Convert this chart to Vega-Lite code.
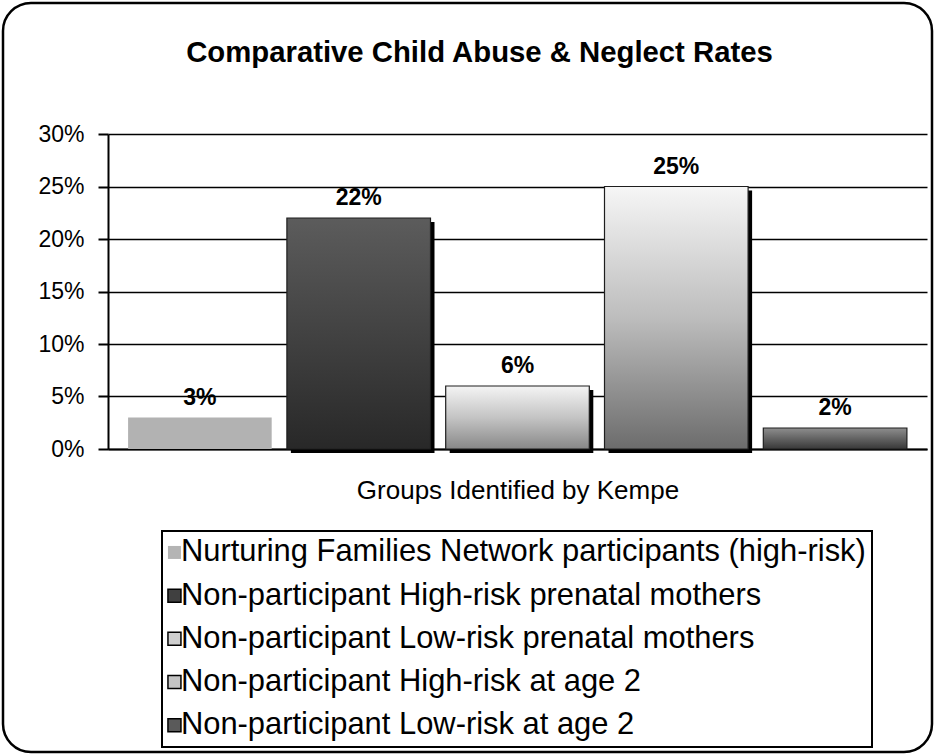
{
  "$schema": "https://vega.github.io/schema/vega-lite/v6.json",
  "width": 929,
  "height": 749,
  "autosize": {"type": "none"},
  "padding": 3,
  "background": "white",
  "config": {
    "view": {"stroke": "black", "strokeWidth": 2.5, "cornerRadius": 28, "fill": "white"},
    "font": "Liberation Sans"
  },
  "title": {
    "text": "Comparative Child Abuse & Neglect Rates",
    "font": "Liberation Sans",
    "fontSize": 29.3,
    "fontWeight": "bold",
    "color": "black",
    "frame": "group",
    "anchor": "middle",
    "offset": -65,
    "dx": 12
  },
  "data": {
    "values": [
      {"series": "Nurturing Families Network participants (high-risk)", "value": 0.03},
      {"series": "Non-participant High-risk prenatal mothers", "value": 0.22},
      {"series": "Non-participant Low-risk prenatal mothers", "value": 0.06},
      {"series": "Non-participant High-risk at age 2", "value": 0.25},
      {"series": "Non-participant Low-risk at age 2", "value": 0.02}
    ]
  },
  "encoding": {
    "x": {
      "field": "series",
      "type": "nominal",
      "sort": null,
      "scale": {"range": [105, 924], "paddingInner": 0.0957, "paddingOuter": 0.1265},
      "axis": {
        "orient": "bottom",
        "offset": -303,
        "labels": false,
        "ticks": false,
        "grid": false,
        "domainColor": "black",
        "domainWidth": 2,
        "title": "Groups Identified by Kempe",
        "titleFont": "Liberation Sans",
        "titleFontSize": 26,
        "titleFontWeight": "normal",
        "titleColor": "black",
        "titlePadding": 28
      }
    },
    "y": {
      "field": "value",
      "type": "quantitative",
      "scale": {"domain": [0, 0.3], "range": [446, 131]},
      "axis": {
        "orient": "left",
        "offset": -105,
        "values": [0, 0.05, 0.1, 0.15, 0.2, 0.25, 0.3],
        "format": ".0%",
        "grid": true,
        "gridColor": "black",
        "gridWidth": 1.5,
        "gridOpacity": 1,
        "domainColor": "black",
        "domainWidth": 2,
        "tickColor": "black",
        "tickWidth": 2,
        "tickSize": 10,
        "labelFont": "Liberation Sans",
        "labelFontSize": 23,
        "labelColor": "black",
        "labelPadding": 14,
        "title": null
      }
    }
  },
  "layer": [
    {
      "mark": {"type": "bar", "opacity": 0},
      "encoding": {
        "fill": {
          "field": "series",
          "type": "nominal",
          "sort": null,
          "scale": {"range": ["#b4b4b4", "#404040", "#cfcfcf", "#c4c4c4", "#5a5a5a"]},
          "legend": {
            "orient": "none",
            "legendX": 159,
            "legendY": 528,
            "title": null,
            "labelFont": "Liberation Sans",
            "labelFontSize": 30.9,
            "labelColor": "black",
            "labelLimit": 1000,
            "labelOffset": -9,
            "symbolOffset": -9,
            "symbolType": "square",
            "symbolSize": 169,
            "symbolStrokeColor": "black",
            "symbolStrokeWidth": 1.5,
            "symbolOpacity": 1,
            "rowPadding": 11.2,
            "padding": 6,
            "strokeColor": "black",
            "fillColor": "white",
            "encode": {
              "legend": {"update": {"strokeWidth": {"value": 2}}},
              "symbols": {
                "update": {
                  "fill": {"signal": "datum.value === 'Non-participant High-risk prenatal mothers' ? {gradient: 'linear', x1: 0, y1: 0, x2: 0, y2: 1, stops: [{offset: 0, color: '#5c5c5c'}, {offset: 1, color: '#282828'}]} : datum.value === 'Non-participant Low-risk prenatal mothers' ? {gradient: 'linear', x1: 0, y1: 0, x2: 0, y2: 1, stops: [{offset: 0, color: '#f4f4f4'}, {offset: 0.5, color: '#c4c4c4'}, {offset: 1, color: '#888888'}]} : datum.value === 'Non-participant High-risk at age 2' ? {gradient: 'linear', x1: 0, y1: 0, x2: 0, y2: 1, stops: [{offset: 0, color: '#f6f6f6'}, {offset: 0.5, color: '#bdbdbd'}, {offset: 1, color: '#6c6c6c'}]} : datum.value === 'Non-participant Low-risk at age 2' ? {gradient: 'linear', x1: 0, y1: 0, x2: 0, y2: 1, stops: [{offset: 0, color: '#8e8e8e'}, {offset: 1, color: '#383838'}]} : '#b4b4b4'"},
                  "stroke": {"signal": "datum.value === 'Nurturing Families Network participants (high-risk)' ? 'transparent' : 'black'"}
                }
              }
            }
          }
        }
      }
    },
    {
      "transform": [
        {"filter": {"field": "series", "oneOf": ["Non-participant High-risk prenatal mothers", "Non-participant Low-risk prenatal mothers", "Non-participant High-risk at age 2"]}}
      ],
      "mark": {"type": "bar", "color": "black", "xOffset": 4, "yOffset": 4, "y2Offset": 0}
    },
    {
      "transform": [{"filter": "datum.series === 'Nurturing Families Network participants (high-risk)'"}],
      "mark": {"type": "bar", "color": "#b2b2b2"}
    },
    {
      "transform": [{"filter": "datum.series === 'Non-participant High-risk prenatal mothers'"}],
      "mark": {"type": "bar", "stroke": "#1e1e1e", "strokeWidth": 1.2, "fill": {"gradient": "linear", "x1": 0, "y1": 0, "x2": 0, "y2": 1, "stops": [{"offset": 0, "color": "#5c5c5c"}, {"offset": 1, "color": "#282828"}]}}
    },
    {
      "transform": [{"filter": "datum.series === 'Non-participant Low-risk prenatal mothers'"}],
      "mark": {"type": "bar", "stroke": "#1e1e1e", "strokeWidth": 1.2, "fill": {"gradient": "linear", "x1": 0, "y1": 0, "x2": 0, "y2": 1, "stops": [{"offset": 0, "color": "#f4f4f4"}, {"offset": 0.5, "color": "#c4c4c4"}, {"offset": 1, "color": "#888888"}]}}
    },
    {
      "transform": [{"filter": "datum.series === 'Non-participant High-risk at age 2'"}],
      "mark": {"type": "bar", "stroke": "#1e1e1e", "strokeWidth": 1.2, "fill": {"gradient": "linear", "x1": 0, "y1": 0, "x2": 0, "y2": 1, "stops": [{"offset": 0, "color": "#f6f6f6"}, {"offset": 0.5, "color": "#bdbdbd"}, {"offset": 1, "color": "#6c6c6c"}]}}
    },
    {
      "transform": [{"filter": "datum.series === 'Non-participant Low-risk at age 2'"}],
      "mark": {"type": "bar", "stroke": "#1e1e1e", "strokeWidth": 1.2, "fill": {"gradient": "linear", "x1": 0, "y1": 0, "x2": 0, "y2": 1, "stops": [{"offset": 0, "color": "#8e8e8e"}, {"offset": 1, "color": "#383838"}]}}
    },
    {
      "mark": {"type": "text", "font": "Liberation Sans", "fontWeight": "bold", "fontSize": 23, "baseline": "bottom", "dy": -8, "color": "black"},
      "encoding": {
        "text": {"field": "value", "type": "quantitative", "format": ".0%"}
      }
    }
  ]
}
